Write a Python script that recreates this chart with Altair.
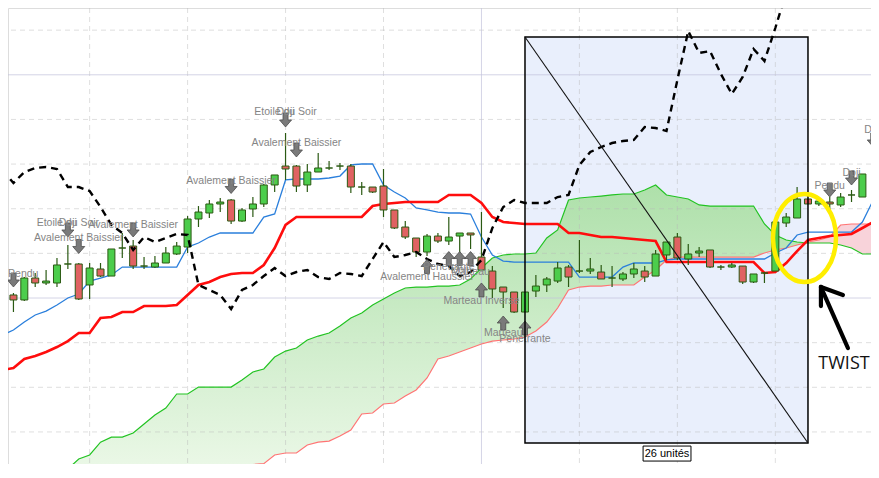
import altair as alt
import pandas as pd

# ---------------- candles (bar 0 = first bar of the 26-unit box) ----------------
candle_i = list(range(-48, 32))
opens = [98.77, 100.34, 99.78, 102.24, 101.68, 101.68, 103.81, 103.81, 101.46, 103.25,
         102.46, 105.60, 105.82, 103.58, 103.47, 103.92, 104.93, 105.71, 108.85, 109.52,
         110.53, 110.98, 108.62, 109.97, 110.53, 112.66, 114.78, 114.78, 112.66, 114.11,
         114.56, 114.78, 114.78, 112.43, 112.43, 112.54, 109.86, 107.95, 106.72, 105.15,
         106.94, 106.38, 106.94, 107.28, 104.59, 103.02, 101.23, 100.67, 98.43, 100.78,
         101.46, 101.90, 103.47, 103.02, 103.02, 102.91, 102.24, 102.13, 102.69, 103.02,
         102.46, 104.82, 106.83, 104.37, 105.04, 105.38, 103.47, 103.47, 103.58, 101.79,
         102.80, 103.02, 108.40, 108.96, 111.09, 110.53, 110.75, 110.42, 111.54, 111.31]
highs = [100.56, 100.56, 102.35, 102.80, 103.14, 104.48, 105.94, 103.92, 103.92, 103.92,
         105.49, 107.28, 106.50, 104.59, 104.70, 105.71, 106.27, 109.18, 110.30, 110.98,
         111.20, 111.09, 110.08, 111.31, 112.77, 113.78, 118.48, 114.90, 115.01, 116.24,
         115.34, 115.12, 115.01, 112.99, 112.43, 114.45, 109.86, 108.62, 106.72, 107.17,
         107.28, 109.07, 107.28, 107.28, 109.63, 103.58, 101.23, 100.67, 100.67, 102.58,
         102.35, 104.03, 103.70, 106.50, 104.48, 103.70, 103.58, 102.91, 103.92, 103.58,
         105.38, 106.27, 107.28, 106.05, 105.71, 105.38, 103.70, 103.92, 103.58, 102.69,
         102.91, 108.51, 109.52, 112.43, 111.09, 111.20, 111.31, 111.76, 112.10, 113.89]
lows = [98.10, 98.43, 99.66, 101.23, 101.46, 101.23, 103.25, 99.78, 99.89, 102.35,
        102.46, 104.48, 103.25, 103.25, 103.36, 103.92, 104.82, 105.04, 107.95, 108.96,
        109.63, 108.29, 108.51, 109.07, 110.19, 111.87, 113.22, 111.87, 111.87, 114.11,
        114.34, 114.34, 111.76, 111.54, 111.76, 109.07, 107.73, 106.61, 104.59, 104.70,
        106.16, 105.94, 105.04, 105.49, 103.14, 100.00, 98.88, 98.32, 98.43, 100.11,
        100.67, 101.68, 101.23, 102.80, 102.69, 102.13, 101.23, 101.90, 102.24, 101.79,
        102.46, 104.26, 104.26, 103.70, 104.59, 103.36, 103.14, 103.36, 101.57, 101.68,
        101.68, 103.02, 107.95, 108.96, 110.53, 110.30, 109.86, 110.19, 110.75, 111.31]
closes = [100.34, 99.78, 102.24, 101.68, 101.90, 103.70, 103.81, 99.89, 103.36, 102.46,
          105.49, 105.60, 103.58, 103.58, 103.92, 105.04, 105.82, 108.85, 109.63, 110.53,
          110.75, 108.62, 109.86, 110.53, 112.66, 113.78, 114.45, 112.54, 114.11, 114.56,
          114.56, 114.78, 112.43, 112.43, 111.87, 109.86, 107.84, 106.83, 105.15, 106.94,
          106.38, 106.83, 107.28, 107.06, 103.14, 101.01, 100.67, 98.43, 100.67, 101.34,
          102.13, 103.36, 102.35, 103.02, 103.25, 102.13, 102.24, 102.69, 103.25, 102.35,
          104.93, 106.27, 104.48, 104.93, 105.26, 103.47, 103.47, 103.70, 101.79, 102.69,
          102.80, 108.51, 109.07, 111.09, 110.53, 110.86, 110.53, 111.31, 111.54, 113.89]

# ---------------- Ichimoku lines ----------------
line_i = list(range(-48, 33))
tenkan = [95.86, 96.42, 97.31, 98.10, 98.54, 99.22, 100.00, 100.45, 101.90, 102.24,
          102.58, 103.47, 103.47, 103.47, 103.47, 103.47, 103.47, 105.71, 106.16, 106.83,
          107.28, 107.28, 107.28, 107.28, 109.07, 109.41, 113.22, 113.33, 113.33, 113.33,
          113.44, 113.66, 114.90, 115.01, 115.01, 112.66, 111.87, 111.20, 110.08, 109.86,
          109.63, 109.52, 109.52, 109.41, 106.83, 104.82, 104.14, 104.03, 104.03, 104.03,
          104.03, 104.03, 104.03, 102.35, 102.35, 102.35, 102.35, 103.47, 103.92, 103.92,
          103.92, 104.26, 104.37, 104.37, 104.37, 104.37, 104.37, 104.37, 104.37, 104.37,
          104.37, 105.04, 105.60, 107.06, 107.39, 107.39, 107.39, 107.39, 107.39, 108.51, 110.98]
kijun = [91.94, 92.16, 93.17, 93.50, 93.95, 94.51, 95.18, 96.08, 96.08, 97.76,
         97.87, 98.43, 98.43, 99.10, 99.10, 99.10, 99.22, 100.34, 101.46, 101.79,
         102.35, 102.69, 102.80, 102.80, 103.70, 105.60, 108.18, 109.07, 109.07, 109.07,
         109.07, 109.07, 109.07, 109.07, 110.30, 110.53, 110.64, 110.75, 110.75, 110.75,
         110.75, 111.54, 111.54, 111.54, 110.64, 109.07, 108.51, 108.40, 108.29, 108.29,
         108.29, 108.29, 107.28, 107.28, 107.06, 106.83, 106.83, 106.72, 106.61, 106.50,
         106.38, 104.03, 104.03, 104.03, 104.03, 104.03, 104.03, 104.03, 104.03, 104.03,
         102.80, 102.91, 103.92, 105.26, 106.50, 106.72, 106.94, 107.06, 107.17, 107.84, 108.51]

chikou_i = list(range(-48, 25))
chikou = [114.34, 112.88, 114.11, 114.56, 114.67, 114.45, 112.43, 112.43, 111.98, 110.19,
          108.18, 107.28, 105.38, 106.83, 106.27, 106.72, 107.17, 107.06, 101.46, 100.90,
          100.34, 98.77, 100.90, 101.46, 102.46, 103.36, 102.46, 102.91, 103.14, 102.35,
          102.13, 102.80, 102.69, 102.46, 104.37, 106.27, 104.59, 104.82, 105.15, 104.37,
          103.81, 103.58, 102.46, 102.91, 104.26, 107.84, 110.19, 110.98, 110.64, 110.64,
          110.64, 111.31, 111.54, 114.90, 116.35, 116.91, 117.36, 117.58, 117.70, 119.15,
          119.04, 118.70, 124.42, 129.90, 127.44, 127.66, 125.09, 122.85, 124.75, 127.89,
          126.54, 130.24, 134.27]

cloud_i = list(range(-42, 33))
senkou_a = [80.85, 81.97, 82.42, 83.86, 84.42, 84.42, 84.88, 85.89, 86.90, 87.68,
            89.25, 89.25, 90.03, 90.03, 90.03, 90.03, 90.82, 91.71, 92.05, 93.39,
            94.06, 94.40, 95.30, 95.74, 96.08, 96.86, 97.76, 98.32, 99.22, 99.89,
            100.56, 101.12, 101.23, 101.23, 101.34, 101.34, 101.46, 102.13, 103.36, 104.48,
            104.82, 104.93, 104.93, 105.04, 106.72, 107.62, 110.98, 111.20, 111.31, 111.42,
            111.54, 111.65, 111.65, 112.10, 112.66, 111.54, 111.31, 111.09, 110.42, 110.30,
            110.30, 110.30, 110.30, 110.30, 108.29, 107.06, 106.50, 106.27, 106.16, 106.16,
            106.16, 105.94, 105.60, 104.93, 104.93]
senkou_b = [79.2, 79.3, 79.4, 79.5, 79.6, 79.7, 79.8, 79.9, 80.0, 80.1,
            80.2, 80.3, 80.4, 80.5, 80.7, 80.9, 81.1, 81.35, 81.45, 82.42,
            82.64, 82.64, 83.54, 83.86, 83.98, 84.54, 85.22, 87.01, 87.12, 88.13,
            88.24, 89.03, 89.70, 91.04, 93.17, 93.50, 93.95, 94.40, 94.85, 95.18,
            95.30, 95.41, 95.63, 96.30, 97.31, 98.88, 100.90, 101.23, 101.34, 101.34,
            101.46, 101.46, 101.46, 102.35, 103.14, 104.26, 104.59, 104.59, 104.59, 104.59,
            104.59, 104.59, 104.59, 104.59, 105.04, 105.38, 105.60, 105.94, 106.27, 106.50,
            106.83, 108.18, 108.29, 108.29, 108.29]

# ---------------- pattern annotations ----------------
down_i = [-47, -42, -41, -36, -27, -22, -21, 28, 30, 32]
down_y = [102.02, 107.62, 105.77, 107.62, 112.49, 119.94, 116.58, 112.10, 113.44, 117.70]
up_i = [-9, -7, -6, -5, -4, -2, 0]
up_y = [103.53, 104.42, 104.42, 104.42, 100.90, 97.20, 96.64]

label_text = ["Pendu", "Etoile du Soir", "Doji", "Avalement Baissier", "Avalement Baissier",
              "Avalement Baissier", "Etoile du Soir", "Doji", "Avalement Baissier",
              "Penetrante", "Doji", "Marteau", "Avalement Haussier", "Marteau Inverse",
              "Marteau", "Penetrante", "Pendu", "Doji", "Doji"]
label_i = [-46.1, -42, -42, -41, -36, -27, -22, -22, -21, -7, -6, -5, -9, -4, -2, 0, 28, 30, 32]
label_y = [102.69, 108.40, 108.40, 106.72, 108.18, 113.10, 120.83, 120.83, 117.36,
           103.47, 103.14, 102.91, 102.35, 99.66, 96.08, 95.41, 112.54, 114.00, 118.82]

# grid
minor_y = [85, 90, 95, 105, 110, 115, 120, 130]
major_y = [100, 125]
minor_x = [-40, -31, -22, -13, 5, 14, 23]
major_x = [-4]

# 26-unit box and notes
box_x = [0, 26]
box_y = [129.23, 83.76]
tag_x = [10.85, 15.25]
tag_y = [83.42, 81.74]
tag_pos = [13.05, 82.58]
ellipse_pos = [25.68, 106.72]
twist_pos = [26.95, 92.61]
twist_seg = ["shaft", "shaft", "left", "left", "right", "right"]
twist_ord = [0, 1, 0, 1, 0, 1]
twist_x = [29.67, 27.19, 27.19, 27.19, 27.19, 29.21]
twist_y = [94.40, 101.23, 101.23, 99.10, 101.23, 100.34]

# ---------------- frames ----------------
cdf = pd.DataFrame({"i": candle_i, "o": opens, "h": highs, "l": lows, "c": closes})
cdf["kind"] = ["up" if c >= o else "down" for o, c in zip(opens, closes)]
ldf = pd.DataFrame({"i": line_i, "tenkan": tenkan, "kijun": kijun})
chdf = pd.DataFrame({"i": chikou_i, "v": chikou})
cl = pd.DataFrame({"i": cloud_i, "a": senkou_a, "b": senkou_b})
cl["lo"] = cl[["a", "b"]].min(axis=1)
ddf = pd.DataFrame({"i": down_i, "y": down_y})
udf = pd.DataFrame({"i": up_i, "y": up_y})
lab = pd.DataFrame({"i": label_i, "y": label_y, "t": label_text})

XS = alt.Scale(domain=[-47.5, 31.79], nice=False, zero=False, padding=0)
YS = alt.Scale(domain=[81.41, 132.48], nice=False, zero=False, padding=0)


def X(f):
    return alt.X(f, type="quantitative", scale=XS, axis=None)


def Y(f):
    return alt.Y(f, type="quantitative", scale=YS, axis=None)


boxdf = pd.DataFrame({"x": [box_x[0]], "x2": [box_x[1]], "y": [box_y[0]], "y2": [box_y[1]]})
box_fill = alt.Chart(boxdf).mark_rect(fill="#e9effc").encode(x=X("x"), x2="x2", y=Y("y"), y2="y2")

grad = alt.Gradient(gradient="linear",
                    stops=[alt.GradientStop(color="#aee0aa", offset=0),
                           alt.GradientStop(color="#eef9ea", offset=1)],
                    x1=0, x2=0, y1=0, y2=1)
green_area = alt.Chart(cl).mark_area(clip=True, color=grad).encode(x=X("i"), y=Y("a"), y2="lo")
pink_area = alt.Chart(cl).mark_area(clip=True, color="#f8d3da").encode(x=X("i"), y=Y("b"), y2="lo")

g1 = alt.Chart(pd.DataFrame({"v": minor_y})).mark_rule(color="#b8b8b8", opacity=0.45, strokeDash=[5, 4]).encode(y=Y("v"))
g2 = alt.Chart(pd.DataFrame({"v": minor_x})).mark_rule(color="#b8b8b8", opacity=0.45, strokeDash=[5, 4]).encode(x=X("v"))
g3 = alt.Chart(pd.DataFrame({"v": major_y})).mark_rule(color="#c2c2dc", opacity=0.7).encode(y=Y("v"))
g4 = alt.Chart(pd.DataFrame({"v": major_x})).mark_rule(color="#c2c2dc", opacity=0.7).encode(x=X("v"))

line_a = alt.Chart(cl).mark_line(clip=True, color="#22c322", strokeWidth=1.2).encode(x=X("i"), y=Y("a"))
line_b = alt.Chart(cl).mark_line(clip=True, color="#ff7474", strokeWidth=1.2).encode(x=X("i"), y=Y("b"))
line_t = alt.Chart(ldf).mark_line(clip=True, color="#2a7fdc", strokeWidth=1.3).encode(x=X("i"), y=Y("tenkan"))
line_k = alt.Chart(ldf).mark_line(clip=True, color="#ff0d0d", strokeWidth=2.6).encode(x=X("i"), y=Y("kijun"))

wicks = alt.Chart(cdf).mark_rule(color="#2b5a13", strokeWidth=1.2).encode(x=X("i"), y=Y("l"), y2="h")
bodies = alt.Chart(cdf).mark_bar(size=7, stroke="#2b5a13", strokeWidth=1).encode(
    x=X("i"), y=Y("o"), y2="c",
    fill=alt.Fill("kind:N", scale=alt.Scale(domain=["up", "down"], range=["#4ccd4c", "#e06262"]), legend=None))

line_c = alt.Chart(chdf).mark_line(clip=True, color="#000000", strokeWidth=2.4, strokeDash=[7, 5]).encode(x=X("i"), y=Y("v"))

DOWN = "M-0.36,-1L0.36,-1L0.36,0L0.86,0L0,1L-0.86,0L-0.36,0Z"
UP = "M-0.36,1L0.36,1L0.36,0L0.86,0L0,-1L-0.86,0L-0.36,0Z"
arr_d = alt.Chart(ddf).mark_point(shape=DOWN, size=196, filled=True, fill="#7a7a7a", stroke="#4d4d4d",
                                  strokeWidth=0.8, opacity=1, clip=True).encode(x=X("i"), y=Y("y"))
arr_u = alt.Chart(udf).mark_point(shape=UP, size=196, filled=True, fill="#7a7a7a", stroke="#4d4d4d",
                                  strokeWidth=0.8, opacity=1, clip=True).encode(x=X("i"), y=Y("y"))
labels = alt.Chart(lab).mark_text(font="Liberation Sans", fontSize=10.5, color="#858585", clip=True).encode(
    x=X("i"), y=Y("y"), text="t:N")

box_line = alt.Chart(boxdf).mark_rect(fillOpacity=0, stroke="#000000", strokeWidth=1.5).encode(
    x=X("x"), x2="x2", y=Y("y"), y2="y2")
diag = alt.Chart(pd.DataFrame({"x": box_x, "y": box_y})).mark_line(color="#111111", strokeWidth=1.1).encode(
    x=X("x"), y=Y("y"))

tagdf = pd.DataFrame({"x": [tag_x[0]], "x2": [tag_x[1]], "y": [tag_y[0]], "y2": [tag_y[1]]})
tag_box = alt.Chart(tagdf).mark_rect(fill="#ffffff", stroke="#000000", strokeWidth=1).encode(
    x=X("x"), x2="x2", y=Y("y"), y2="y2")
tag_text = alt.Chart(pd.DataFrame({"x": [tag_pos[0]], "y": [tag_pos[1]], "t": ["26 unités"]})).mark_text(
    font="Liberation Sans", fontSize=11, color="#000000").encode(x=X("x"), y=Y("y"), text="t:N")

ELL = ("M0.716,0 C0.716,0.5523 0.3954,1 0,1 C-0.3954,1 -0.716,0.5523 -0.716,0 "
       "C-0.716,-0.5523 -0.3954,-1 0,-1 C0.3954,-1 0.716,-0.5523 0.716,0 Z")
ellipse = alt.Chart(pd.DataFrame({"x": [ellipse_pos[0]], "y": [ellipse_pos[1]]})).mark_point(
    shape=ELL, size=7744, filled=False, stroke="#ffee00", strokeWidth=4.5, opacity=1).encode(x=X("x"), y=Y("y"))

twdf = pd.DataFrame({"seg": twist_seg, "o": twist_ord, "x": twist_x, "y": twist_y})
twist_arrow = alt.Chart(twdf).mark_line(color="#000000", strokeWidth=4.2, strokeCap="round").encode(
    x=X("x"), y=Y("y"), detail="seg:N", order="o:Q")
twist_text = alt.Chart(pd.DataFrame({"x": [twist_pos[0]], "y": [twist_pos[1]], "t": ["TWIST"]})).mark_text(
    font="Open Sans", fontSize=18, color="#111111", align="left", baseline="middle").encode(
    x=X("x"), y=Y("y"), text="t:N")

chart = alt.layer(
    box_fill, green_area, pink_area, g1, g2, g3, g4,
    line_a, line_b, line_t, line_k, wicks, bodies, line_c,
    arr_d, arr_u, labels, box_line, diag, tag_box, tag_text,
    ellipse, twist_arrow, twist_text
).properties(
    width=863, height=456, padding=0, autosize=alt.AutoSizeParams(type="none")
).configure_view(strokeWidth=0, stroke="transparent").configure(background="#ffffff")

chart.save("out.html", embed_options={"renderer": "svg", "actions": False})
